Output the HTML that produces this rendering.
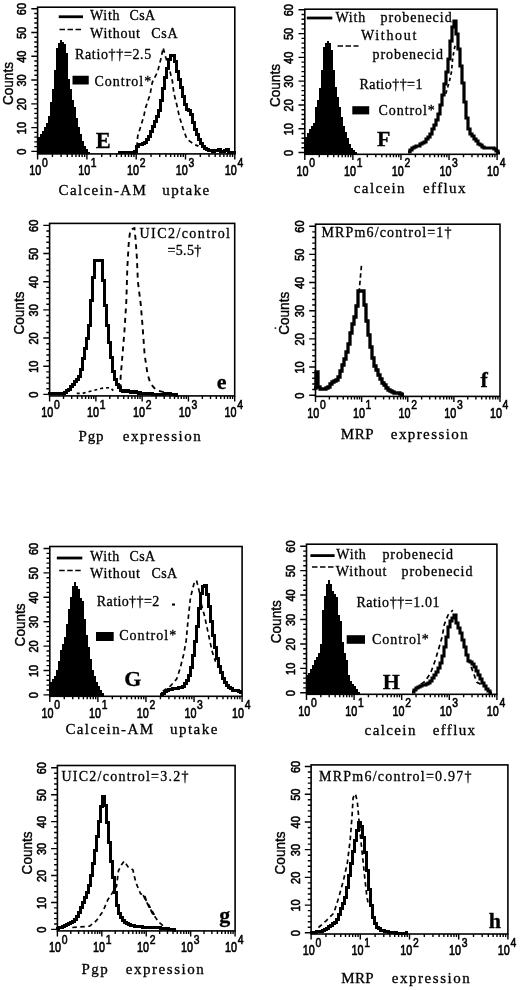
<!DOCTYPE html>
<html><head><meta charset="utf-8"><title>Figure</title>
<style>html,body{margin:0;padding:0;background:#fff}svg{display:block}text{fill:#000}</style>
</head><body>
<svg width="520" height="990" viewBox="0 0 520 990">
<rect width="520" height="990" fill="#fff"/>
<rect x="37.6" y="7.2" width="197.2" height="146.7" fill="none" stroke="#000" stroke-width="1.6"/>
<path d="M37.6 153.9v5.6 M52.44 153.9v3 M61.12 153.9v3 M67.28 153.9v3 M72.06 153.9v3 M75.96 153.9v3 M79.26 153.9v3 M82.12 153.9v3 M84.64 153.9v3 M86.9 153.9v5.6 M101.74 153.9v3 M110.42 153.9v3 M116.58 153.9v3 M121.36 153.9v3 M125.26 153.9v3 M128.56 153.9v3 M131.42 153.9v3 M133.94 153.9v3 M136.2 153.9v5.6 M151.04 153.9v3 M159.72 153.9v3 M165.88 153.9v3 M170.66 153.9v3 M174.56 153.9v3 M177.86 153.9v3 M180.72 153.9v3 M183.24 153.9v3 M185.5 153.9v5.6 M200.34 153.9v3 M209.02 153.9v3 M215.18 153.9v3 M219.96 153.9v3 M223.86 153.9v3 M227.16 153.9v3 M230.02 153.9v3 M232.54 153.9v3 M234.8 153.9v5.6 M37.6 151.4h-6.3 M37.6 146.64h-3.3 M37.6 141.89h-3.3 M37.6 137.13h-3.3 M37.6 132.37h-3.3 M37.6 127.62h-6.3 M37.6 122.86h-3.3 M37.6 118.1h-3.3 M37.6 113.35h-3.3 M37.6 108.59h-3.3 M37.6 103.83h-6.3 M37.6 99.08h-3.3 M37.6 94.32h-3.3 M37.6 89.56h-3.3 M37.6 84.81h-3.3 M37.6 80.05h-6.3 M37.6 75.29h-3.3 M37.6 70.54h-3.3 M37.6 65.78h-3.3 M37.6 61.02h-3.3 M37.6 56.27h-6.3 M37.6 51.51h-3.3 M37.6 46.75h-3.3 M37.6 42h-3.3 M37.6 37.24h-3.3 M37.6 32.48h-6.3 M37.6 27.73h-3.3 M37.6 22.97h-3.3 M37.6 18.21h-3.3 M37.6 13.46h-3.3 M37.6 8.7h-6.3" stroke="#000" stroke-width="1.4" fill="none"/>
<text transform="translate(29.3 175.3) scale(1 1.27)" font-family='"Liberation Sans", sans-serif' font-size="10.8" stroke="#000" stroke-width="0.5">10<tspan dx="0.7" dy="-6.6" font-size="10.4">0</tspan></text>
<text transform="translate(78.15 175.3) scale(1 1.27)" font-family='"Liberation Sans", sans-serif' font-size="10.8" stroke="#000" stroke-width="0.5">10<tspan dx="0.7" dy="-6.6" font-size="10.4">1</tspan></text>
<text transform="translate(127 175.3) scale(1 1.27)" font-family='"Liberation Sans", sans-serif' font-size="10.8" stroke="#000" stroke-width="0.5">10<tspan dx="0.7" dy="-6.6" font-size="10.4">2</tspan></text>
<text transform="translate(175.85 175.3) scale(1 1.27)" font-family='"Liberation Sans", sans-serif' font-size="10.8" stroke="#000" stroke-width="0.5">10<tspan dx="0.7" dy="-6.6" font-size="10.4">3</tspan></text>
<text transform="translate(224.7 175.3) scale(1 1.27)" font-family='"Liberation Sans", sans-serif' font-size="10.8" stroke="#000" stroke-width="0.5">10<tspan dx="0.7" dy="-6.6" font-size="10.4">4</tspan></text>
<text transform="translate(26 151.8) rotate(-90) scale(1 1.15)" text-anchor="middle" font-family='"Liberation Sans", sans-serif' font-size="11" stroke="#000" stroke-width="0.5">0</text>
<text transform="translate(26 128.02) rotate(-90) scale(1 1.15)" text-anchor="middle" font-family='"Liberation Sans", sans-serif' font-size="11" stroke="#000" stroke-width="0.5">10</text>
<text transform="translate(26 104.23) rotate(-90) scale(1 1.15)" text-anchor="middle" font-family='"Liberation Sans", sans-serif' font-size="11" stroke="#000" stroke-width="0.5">20</text>
<text transform="translate(26 80.45) rotate(-90) scale(1 1.15)" text-anchor="middle" font-family='"Liberation Sans", sans-serif' font-size="11" stroke="#000" stroke-width="0.5">30</text>
<text transform="translate(26 56.67) rotate(-90) scale(1 1.15)" text-anchor="middle" font-family='"Liberation Sans", sans-serif' font-size="11" stroke="#000" stroke-width="0.5">40</text>
<text transform="translate(26 32.88) rotate(-90) scale(1 1.15)" text-anchor="middle" font-family='"Liberation Sans", sans-serif' font-size="11" stroke="#000" stroke-width="0.5">50</text>
<text transform="translate(26 9.1) rotate(-90) scale(1 1.15)" text-anchor="middle" font-family='"Liberation Sans", sans-serif' font-size="11" stroke="#000" stroke-width="0.5">60</text>
<text transform="translate(12.5 83.55) rotate(-90) scale(1 1.08)" text-anchor="middle" font-family='"Liberation Sans", sans-serif' font-size="13.6" stroke="#000" stroke-width="0.35">Counts</text>
<rect x="304.8" y="9.2" width="192.3" height="145.1" fill="none" stroke="#000" stroke-width="1.6"/>
<path d="M304.8 154.3v5.6 M319.27 154.3v3 M327.74 154.3v3 M333.74 154.3v3 M338.4 154.3v3 M342.21 154.3v3 M345.43 154.3v3 M348.22 154.3v3 M350.68 154.3v3 M352.88 154.3v5.6 M367.35 154.3v3 M375.81 154.3v3 M381.82 154.3v3 M386.48 154.3v3 M390.28 154.3v3 M393.5 154.3v3 M396.29 154.3v3 M398.75 154.3v3 M400.95 154.3v5.6 M415.42 154.3v3 M423.89 154.3v3 M429.89 154.3v3 M434.55 154.3v3 M438.36 154.3v3 M441.58 154.3v3 M444.37 154.3v3 M446.83 154.3v3 M449.03 154.3v5.6 M463.5 154.3v3 M471.96 154.3v3 M477.97 154.3v3 M482.63 154.3v3 M486.43 154.3v3 M489.65 154.3v3 M492.44 154.3v3 M494.9 154.3v3 M497.1 154.3v5.6 M304.8 152.5h-6.3 M304.8 147.74h-3.3 M304.8 142.99h-3.3 M304.8 138.23h-3.3 M304.8 133.47h-3.3 M304.8 128.72h-6.3 M304.8 123.96h-3.3 M304.8 119.2h-3.3 M304.8 114.45h-3.3 M304.8 109.69h-3.3 M304.8 104.93h-6.3 M304.8 100.18h-3.3 M304.8 95.42h-3.3 M304.8 90.66h-3.3 M304.8 85.91h-3.3 M304.8 81.15h-6.3 M304.8 76.39h-3.3 M304.8 71.64h-3.3 M304.8 66.88h-3.3 M304.8 62.12h-3.3 M304.8 57.37h-6.3 M304.8 52.61h-3.3 M304.8 47.85h-3.3 M304.8 43.1h-3.3 M304.8 38.34h-3.3 M304.8 33.58h-6.3 M304.8 28.83h-3.3 M304.8 24.07h-3.3 M304.8 19.31h-3.3 M304.8 14.56h-3.3 M304.8 9.8h-6.3" stroke="#000" stroke-width="1.4" fill="none"/>
<text transform="translate(296.5 175.7) scale(1 1.27)" font-family='"Liberation Sans", sans-serif' font-size="10.8" stroke="#000" stroke-width="0.5">10<tspan dx="0.7" dy="-6.6" font-size="10.4">0</tspan></text>
<text transform="translate(344.12 175.7) scale(1 1.27)" font-family='"Liberation Sans", sans-serif' font-size="10.8" stroke="#000" stroke-width="0.5">10<tspan dx="0.7" dy="-6.6" font-size="10.4">1</tspan></text>
<text transform="translate(391.75 175.7) scale(1 1.27)" font-family='"Liberation Sans", sans-serif' font-size="10.8" stroke="#000" stroke-width="0.5">10<tspan dx="0.7" dy="-6.6" font-size="10.4">2</tspan></text>
<text transform="translate(439.38 175.7) scale(1 1.27)" font-family='"Liberation Sans", sans-serif' font-size="10.8" stroke="#000" stroke-width="0.5">10<tspan dx="0.7" dy="-6.6" font-size="10.4">3</tspan></text>
<text transform="translate(487 175.7) scale(1 1.27)" font-family='"Liberation Sans", sans-serif' font-size="10.8" stroke="#000" stroke-width="0.5">10<tspan dx="0.7" dy="-6.6" font-size="10.4">4</tspan></text>
<text transform="translate(293.2 152.9) rotate(-90) scale(1 1.15)" text-anchor="middle" font-family='"Liberation Sans", sans-serif' font-size="11" stroke="#000" stroke-width="0.5">0</text>
<text transform="translate(293.2 129.12) rotate(-90) scale(1 1.15)" text-anchor="middle" font-family='"Liberation Sans", sans-serif' font-size="11" stroke="#000" stroke-width="0.5">10</text>
<text transform="translate(293.2 105.33) rotate(-90) scale(1 1.15)" text-anchor="middle" font-family='"Liberation Sans", sans-serif' font-size="11" stroke="#000" stroke-width="0.5">20</text>
<text transform="translate(293.2 81.55) rotate(-90) scale(1 1.15)" text-anchor="middle" font-family='"Liberation Sans", sans-serif' font-size="11" stroke="#000" stroke-width="0.5">30</text>
<text transform="translate(293.2 57.77) rotate(-90) scale(1 1.15)" text-anchor="middle" font-family='"Liberation Sans", sans-serif' font-size="11" stroke="#000" stroke-width="0.5">40</text>
<text transform="translate(293.2 33.98) rotate(-90) scale(1 1.15)" text-anchor="middle" font-family='"Liberation Sans", sans-serif' font-size="11" stroke="#000" stroke-width="0.5">50</text>
<text transform="translate(293.2 10.2) rotate(-90) scale(1 1.15)" text-anchor="middle" font-family='"Liberation Sans", sans-serif' font-size="11" stroke="#000" stroke-width="0.5">60</text>
<text transform="translate(280 85.55) rotate(-90) scale(1 1.08)" text-anchor="middle" font-family='"Liberation Sans", sans-serif' font-size="13.6" stroke="#000" stroke-width="0.35">Counts</text>
<rect x="49.6" y="223.4" width="185.1" height="172.5" fill="none" stroke="#000" stroke-width="1.6"/>
<path d="M49.6 395.9v5.6 M63.53 395.9v3 M71.68 395.9v3 M77.46 395.9v3 M81.94 395.9v3 M85.61 395.9v3 M88.71 395.9v3 M91.39 395.9v3 M93.76 395.9v3 M95.88 395.9v5.6 M109.81 395.9v3 M117.95 395.9v3 M123.74 395.9v3 M128.22 395.9v3 M131.88 395.9v3 M134.98 395.9v3 M137.67 395.9v3 M140.03 395.9v3 M142.15 395.9v5.6 M156.08 395.9v3 M164.23 395.9v3 M170.01 395.9v3 M174.49 395.9v3 M178.16 395.9v3 M181.26 395.9v3 M183.94 395.9v3 M186.31 395.9v3 M188.42 395.9v5.6 M202.36 395.9v3 M210.5 395.9v3 M216.29 395.9v3 M220.77 395.9v3 M224.43 395.9v3 M227.53 395.9v3 M230.22 395.9v3 M232.58 395.9v3 M234.7 395.9v5.6 M49.6 394.4h-6.3 M49.6 388.77h-3.3 M49.6 383.13h-3.3 M49.6 377.5h-3.3 M49.6 371.87h-3.3 M49.6 366.23h-6.3 M49.6 360.6h-3.3 M49.6 354.97h-3.3 M49.6 349.33h-3.3 M49.6 343.7h-3.3 M49.6 338.07h-6.3 M49.6 332.43h-3.3 M49.6 326.8h-3.3 M49.6 321.17h-3.3 M49.6 315.53h-3.3 M49.6 309.9h-6.3 M49.6 304.27h-3.3 M49.6 298.63h-3.3 M49.6 293h-3.3 M49.6 287.37h-3.3 M49.6 281.73h-6.3 M49.6 276.1h-3.3 M49.6 270.47h-3.3 M49.6 264.83h-3.3 M49.6 259.2h-3.3 M49.6 253.57h-6.3 M49.6 247.93h-3.3 M49.6 242.3h-3.3 M49.6 236.67h-3.3 M49.6 231.03h-3.3 M49.6 225.4h-6.3" stroke="#000" stroke-width="1.4" fill="none"/>
<text transform="translate(41.3 417.3) scale(1 1.27)" font-family='"Liberation Sans", sans-serif' font-size="10.8" stroke="#000" stroke-width="0.5">10<tspan dx="0.7" dy="-6.6" font-size="10.4">0</tspan></text>
<text transform="translate(87.12 417.3) scale(1 1.27)" font-family='"Liberation Sans", sans-serif' font-size="10.8" stroke="#000" stroke-width="0.5">10<tspan dx="0.7" dy="-6.6" font-size="10.4">1</tspan></text>
<text transform="translate(132.95 417.3) scale(1 1.27)" font-family='"Liberation Sans", sans-serif' font-size="10.8" stroke="#000" stroke-width="0.5">10<tspan dx="0.7" dy="-6.6" font-size="10.4">2</tspan></text>
<text transform="translate(178.77 417.3) scale(1 1.27)" font-family='"Liberation Sans", sans-serif' font-size="10.8" stroke="#000" stroke-width="0.5">10<tspan dx="0.7" dy="-6.6" font-size="10.4">3</tspan></text>
<text transform="translate(224.6 417.3) scale(1 1.27)" font-family='"Liberation Sans", sans-serif' font-size="10.8" stroke="#000" stroke-width="0.5">10<tspan dx="0.7" dy="-6.6" font-size="10.4">4</tspan></text>
<text transform="translate(38 394.8) rotate(-90) scale(1 1.2)" text-anchor="middle" font-family='"Liberation Sans", sans-serif' font-size="11" stroke="#000" stroke-width="0.5">0</text>
<text transform="translate(38 366.63) rotate(-90) scale(1 1.2)" text-anchor="middle" font-family='"Liberation Sans", sans-serif' font-size="11" stroke="#000" stroke-width="0.5">10</text>
<text transform="translate(38 338.47) rotate(-90) scale(1 1.2)" text-anchor="middle" font-family='"Liberation Sans", sans-serif' font-size="11" stroke="#000" stroke-width="0.5">20</text>
<text transform="translate(38 310.3) rotate(-90) scale(1 1.2)" text-anchor="middle" font-family='"Liberation Sans", sans-serif' font-size="11" stroke="#000" stroke-width="0.5">30</text>
<text transform="translate(38 282.13) rotate(-90) scale(1 1.2)" text-anchor="middle" font-family='"Liberation Sans", sans-serif' font-size="11" stroke="#000" stroke-width="0.5">40</text>
<text transform="translate(38 253.97) rotate(-90) scale(1 1.2)" text-anchor="middle" font-family='"Liberation Sans", sans-serif' font-size="11" stroke="#000" stroke-width="0.5">50</text>
<text transform="translate(38 225.8) rotate(-90) scale(1 1.2)" text-anchor="middle" font-family='"Liberation Sans", sans-serif' font-size="11" stroke="#000" stroke-width="0.5">60</text>
<text transform="translate(23.7 313.05) rotate(-90) scale(1 1.08)" text-anchor="middle" font-family='"Liberation Sans", sans-serif' font-size="13.6" stroke="#000" stroke-width="0.35">Counts</text>
<rect x="315.5" y="224.2" width="184.5" height="172.2" fill="none" stroke="#000" stroke-width="1.6"/>
<path d="M315.5 396.4v5.6 M329.39 396.4v3 M337.51 396.4v3 M343.27 396.4v3 M347.74 396.4v3 M351.39 396.4v3 M354.48 396.4v3 M357.16 396.4v3 M359.51 396.4v3 M361.62 396.4v5.6 M375.51 396.4v3 M383.63 396.4v3 M389.4 396.4v3 M393.86 396.4v3 M397.52 396.4v3 M400.61 396.4v3 M403.28 396.4v3 M405.64 396.4v3 M407.75 396.4v5.6 M421.64 396.4v3 M429.76 396.4v3 M435.52 396.4v3 M439.99 396.4v3 M443.64 396.4v3 M446.73 396.4v3 M449.41 396.4v3 M451.76 396.4v3 M453.88 396.4v5.6 M467.76 396.4v3 M475.88 396.4v3 M481.65 396.4v3 M486.11 396.4v3 M489.77 396.4v3 M492.86 396.4v3 M495.53 396.4v3 M497.89 396.4v3 M500 396.4v5.6 M315.5 395.2h-6.3 M315.5 389.57h-3.3 M315.5 383.93h-3.3 M315.5 378.3h-3.3 M315.5 372.67h-3.3 M315.5 367.03h-6.3 M315.5 361.4h-3.3 M315.5 355.77h-3.3 M315.5 350.13h-3.3 M315.5 344.5h-3.3 M315.5 338.87h-6.3 M315.5 333.23h-3.3 M315.5 327.6h-3.3 M315.5 321.97h-3.3 M315.5 316.33h-3.3 M315.5 310.7h-6.3 M315.5 305.07h-3.3 M315.5 299.43h-3.3 M315.5 293.8h-3.3 M315.5 288.17h-3.3 M315.5 282.53h-6.3 M315.5 276.9h-3.3 M315.5 271.27h-3.3 M315.5 265.63h-3.3 M315.5 260h-3.3 M315.5 254.37h-6.3 M315.5 248.73h-3.3 M315.5 243.1h-3.3 M315.5 237.47h-3.3 M315.5 231.83h-3.3 M315.5 226.2h-6.3" stroke="#000" stroke-width="1.4" fill="none"/>
<text transform="translate(307.2 417.8) scale(1 1.27)" font-family='"Liberation Sans", sans-serif' font-size="10.8" stroke="#000" stroke-width="0.5">10<tspan dx="0.7" dy="-6.6" font-size="10.4">0</tspan></text>
<text transform="translate(352.88 417.8) scale(1 1.27)" font-family='"Liberation Sans", sans-serif' font-size="10.8" stroke="#000" stroke-width="0.5">10<tspan dx="0.7" dy="-6.6" font-size="10.4">1</tspan></text>
<text transform="translate(398.55 417.8) scale(1 1.27)" font-family='"Liberation Sans", sans-serif' font-size="10.8" stroke="#000" stroke-width="0.5">10<tspan dx="0.7" dy="-6.6" font-size="10.4">2</tspan></text>
<text transform="translate(444.22 417.8) scale(1 1.27)" font-family='"Liberation Sans", sans-serif' font-size="10.8" stroke="#000" stroke-width="0.5">10<tspan dx="0.7" dy="-6.6" font-size="10.4">3</tspan></text>
<text transform="translate(489.9 417.8) scale(1 1.27)" font-family='"Liberation Sans", sans-serif' font-size="10.8" stroke="#000" stroke-width="0.5">10<tspan dx="0.7" dy="-6.6" font-size="10.4">4</tspan></text>
<text transform="translate(303.9 395.6) rotate(-90) scale(1 1.2)" text-anchor="middle" font-family='"Liberation Sans", sans-serif' font-size="11" stroke="#000" stroke-width="0.5">0</text>
<text transform="translate(303.9 367.43) rotate(-90) scale(1 1.2)" text-anchor="middle" font-family='"Liberation Sans", sans-serif' font-size="11" stroke="#000" stroke-width="0.5">10</text>
<text transform="translate(303.9 339.27) rotate(-90) scale(1 1.2)" text-anchor="middle" font-family='"Liberation Sans", sans-serif' font-size="11" stroke="#000" stroke-width="0.5">20</text>
<text transform="translate(303.9 311.1) rotate(-90) scale(1 1.2)" text-anchor="middle" font-family='"Liberation Sans", sans-serif' font-size="11" stroke="#000" stroke-width="0.5">30</text>
<text transform="translate(303.9 282.93) rotate(-90) scale(1 1.2)" text-anchor="middle" font-family='"Liberation Sans", sans-serif' font-size="11" stroke="#000" stroke-width="0.5">40</text>
<text transform="translate(303.9 254.77) rotate(-90) scale(1 1.2)" text-anchor="middle" font-family='"Liberation Sans", sans-serif' font-size="11" stroke="#000" stroke-width="0.5">50</text>
<text transform="translate(303.9 226.6) rotate(-90) scale(1 1.2)" text-anchor="middle" font-family='"Liberation Sans", sans-serif' font-size="11" stroke="#000" stroke-width="0.5">60</text>
<text transform="translate(288.9 313.3) rotate(-90) scale(1 1.08)" text-anchor="middle" font-family='"Liberation Sans", sans-serif' font-size="13.6" stroke="#000" stroke-width="0.35">Counts</text>
<rect x="49.8" y="546.5" width="192.3" height="149.8" fill="none" stroke="#000" stroke-width="1.6"/>
<path d="M49.8 696.3v5.6 M64.27 696.3v3 M72.74 696.3v3 M78.74 696.3v3 M83.4 696.3v3 M87.21 696.3v3 M90.43 696.3v3 M93.22 696.3v3 M95.68 696.3v3 M97.88 696.3v5.6 M112.35 696.3v3 M120.81 696.3v3 M126.82 696.3v3 M131.48 696.3v3 M135.28 696.3v3 M138.5 696.3v3 M141.29 696.3v3 M143.75 696.3v3 M145.95 696.3v5.6 M160.42 696.3v3 M168.89 696.3v3 M174.89 696.3v3 M179.55 696.3v3 M183.36 696.3v3 M186.58 696.3v3 M189.37 696.3v3 M191.83 696.3v3 M194.03 696.3v5.6 M208.5 696.3v3 M216.96 696.3v3 M222.97 696.3v3 M227.63 696.3v3 M231.43 696.3v3 M234.65 696.3v3 M237.44 696.3v3 M239.9 696.3v3 M242.1 696.3v5.6 M49.8 694.9h-6.3 M49.8 690.02h-3.3 M49.8 685.14h-3.3 M49.8 680.26h-3.3 M49.8 675.38h-3.3 M49.8 670.5h-6.3 M49.8 665.62h-3.3 M49.8 660.74h-3.3 M49.8 655.86h-3.3 M49.8 650.98h-3.3 M49.8 646.1h-6.3 M49.8 641.22h-3.3 M49.8 636.34h-3.3 M49.8 631.46h-3.3 M49.8 626.58h-3.3 M49.8 621.7h-6.3 M49.8 616.82h-3.3 M49.8 611.94h-3.3 M49.8 607.06h-3.3 M49.8 602.18h-3.3 M49.8 597.3h-6.3 M49.8 592.42h-3.3 M49.8 587.54h-3.3 M49.8 582.66h-3.3 M49.8 577.78h-3.3 M49.8 572.9h-6.3 M49.8 568.02h-3.3 M49.8 563.14h-3.3 M49.8 558.26h-3.3 M49.8 553.38h-3.3 M49.8 548.5h-6.3" stroke="#000" stroke-width="1.4" fill="none"/>
<text transform="translate(41.5 717.7) scale(1 1.27)" font-family='"Liberation Sans", sans-serif' font-size="10.8" stroke="#000" stroke-width="0.5">10<tspan dx="0.7" dy="-6.6" font-size="10.4">0</tspan></text>
<text transform="translate(89.12 717.7) scale(1 1.27)" font-family='"Liberation Sans", sans-serif' font-size="10.8" stroke="#000" stroke-width="0.5">10<tspan dx="0.7" dy="-6.6" font-size="10.4">1</tspan></text>
<text transform="translate(136.75 717.7) scale(1 1.27)" font-family='"Liberation Sans", sans-serif' font-size="10.8" stroke="#000" stroke-width="0.5">10<tspan dx="0.7" dy="-6.6" font-size="10.4">2</tspan></text>
<text transform="translate(184.38 717.7) scale(1 1.27)" font-family='"Liberation Sans", sans-serif' font-size="10.8" stroke="#000" stroke-width="0.5">10<tspan dx="0.7" dy="-6.6" font-size="10.4">3</tspan></text>
<text transform="translate(232 717.7) scale(1 1.27)" font-family='"Liberation Sans", sans-serif' font-size="10.8" stroke="#000" stroke-width="0.5">10<tspan dx="0.7" dy="-6.6" font-size="10.4">4</tspan></text>
<text transform="translate(38.2 695.3) rotate(-90) scale(1 1.15)" text-anchor="middle" font-family='"Liberation Sans", sans-serif' font-size="11" stroke="#000" stroke-width="0.5">0</text>
<text transform="translate(38.2 670.9) rotate(-90) scale(1 1.15)" text-anchor="middle" font-family='"Liberation Sans", sans-serif' font-size="11" stroke="#000" stroke-width="0.5">10</text>
<text transform="translate(38.2 646.5) rotate(-90) scale(1 1.15)" text-anchor="middle" font-family='"Liberation Sans", sans-serif' font-size="11" stroke="#000" stroke-width="0.5">20</text>
<text transform="translate(38.2 622.1) rotate(-90) scale(1 1.15)" text-anchor="middle" font-family='"Liberation Sans", sans-serif' font-size="11" stroke="#000" stroke-width="0.5">30</text>
<text transform="translate(38.2 597.7) rotate(-90) scale(1 1.15)" text-anchor="middle" font-family='"Liberation Sans", sans-serif' font-size="11" stroke="#000" stroke-width="0.5">40</text>
<text transform="translate(38.2 573.3) rotate(-90) scale(1 1.15)" text-anchor="middle" font-family='"Liberation Sans", sans-serif' font-size="11" stroke="#000" stroke-width="0.5">50</text>
<text transform="translate(38.2 548.9) rotate(-90) scale(1 1.15)" text-anchor="middle" font-family='"Liberation Sans", sans-serif' font-size="11" stroke="#000" stroke-width="0.5">60</text>
<text transform="translate(25 624.9) rotate(-90) scale(1 1.08)" text-anchor="middle" font-family='"Liberation Sans", sans-serif' font-size="13.6" stroke="#000" stroke-width="0.35">Counts</text>
<rect x="306.5" y="544.2" width="190.4" height="150.1" fill="none" stroke="#000" stroke-width="1.6"/>
<path d="M306.5 694.3v5.6 M320.83 694.3v3 M329.21 694.3v3 M335.16 694.3v3 M339.77 694.3v3 M343.54 694.3v3 M346.73 694.3v3 M349.49 694.3v3 M351.92 694.3v3 M354.1 694.3v5.6 M368.43 694.3v3 M376.81 694.3v3 M382.76 694.3v3 M387.37 694.3v3 M391.14 694.3v3 M394.33 694.3v3 M397.09 694.3v3 M399.52 694.3v3 M401.7 694.3v5.6 M416.03 694.3v3 M424.41 694.3v3 M430.36 694.3v3 M434.97 694.3v3 M438.74 694.3v3 M441.93 694.3v3 M444.69 694.3v3 M447.12 694.3v3 M449.3 694.3v5.6 M463.63 694.3v3 M472.01 694.3v3 M477.96 694.3v3 M482.57 694.3v3 M486.34 694.3v3 M489.53 694.3v3 M492.29 694.3v3 M494.72 694.3v3 M496.9 694.3v5.6 M306.5 692.8h-6.3 M306.5 687.91h-3.3 M306.5 683.03h-3.3 M306.5 678.14h-3.3 M306.5 673.25h-3.3 M306.5 668.37h-6.3 M306.5 663.48h-3.3 M306.5 658.59h-3.3 M306.5 653.71h-3.3 M306.5 648.82h-3.3 M306.5 643.93h-6.3 M306.5 639.05h-3.3 M306.5 634.16h-3.3 M306.5 629.27h-3.3 M306.5 624.39h-3.3 M306.5 619.5h-6.3 M306.5 614.61h-3.3 M306.5 609.73h-3.3 M306.5 604.84h-3.3 M306.5 599.95h-3.3 M306.5 595.07h-6.3 M306.5 590.18h-3.3 M306.5 585.29h-3.3 M306.5 580.41h-3.3 M306.5 575.52h-3.3 M306.5 570.63h-6.3 M306.5 565.75h-3.3 M306.5 560.86h-3.3 M306.5 555.97h-3.3 M306.5 551.09h-3.3 M306.5 546.2h-6.3" stroke="#000" stroke-width="1.4" fill="none"/>
<text transform="translate(298.2 715.7) scale(1 1.27)" font-family='"Liberation Sans", sans-serif' font-size="10.8" stroke="#000" stroke-width="0.5">10<tspan dx="0.7" dy="-6.6" font-size="10.4">0</tspan></text>
<text transform="translate(345.35 715.7) scale(1 1.27)" font-family='"Liberation Sans", sans-serif' font-size="10.8" stroke="#000" stroke-width="0.5">10<tspan dx="0.7" dy="-6.6" font-size="10.4">1</tspan></text>
<text transform="translate(392.5 715.7) scale(1 1.27)" font-family='"Liberation Sans", sans-serif' font-size="10.8" stroke="#000" stroke-width="0.5">10<tspan dx="0.7" dy="-6.6" font-size="10.4">2</tspan></text>
<text transform="translate(439.65 715.7) scale(1 1.27)" font-family='"Liberation Sans", sans-serif' font-size="10.8" stroke="#000" stroke-width="0.5">10<tspan dx="0.7" dy="-6.6" font-size="10.4">3</tspan></text>
<text transform="translate(486.8 715.7) scale(1 1.27)" font-family='"Liberation Sans", sans-serif' font-size="10.8" stroke="#000" stroke-width="0.5">10<tspan dx="0.7" dy="-6.6" font-size="10.4">4</tspan></text>
<text transform="translate(294.9 693.2) rotate(-90) scale(1 1.15)" text-anchor="middle" font-family='"Liberation Sans", sans-serif' font-size="11" stroke="#000" stroke-width="0.5">0</text>
<text transform="translate(294.9 668.77) rotate(-90) scale(1 1.15)" text-anchor="middle" font-family='"Liberation Sans", sans-serif' font-size="11" stroke="#000" stroke-width="0.5">10</text>
<text transform="translate(294.9 644.33) rotate(-90) scale(1 1.15)" text-anchor="middle" font-family='"Liberation Sans", sans-serif' font-size="11" stroke="#000" stroke-width="0.5">20</text>
<text transform="translate(294.9 619.9) rotate(-90) scale(1 1.15)" text-anchor="middle" font-family='"Liberation Sans", sans-serif' font-size="11" stroke="#000" stroke-width="0.5">30</text>
<text transform="translate(294.9 595.47) rotate(-90) scale(1 1.15)" text-anchor="middle" font-family='"Liberation Sans", sans-serif' font-size="11" stroke="#000" stroke-width="0.5">40</text>
<text transform="translate(294.9 571.03) rotate(-90) scale(1 1.15)" text-anchor="middle" font-family='"Liberation Sans", sans-serif' font-size="11" stroke="#000" stroke-width="0.5">50</text>
<text transform="translate(294.9 546.6) rotate(-90) scale(1 1.15)" text-anchor="middle" font-family='"Liberation Sans", sans-serif' font-size="11" stroke="#000" stroke-width="0.5">60</text>
<text transform="translate(280.9 621.75) rotate(-90) scale(1 1.08)" text-anchor="middle" font-family='"Liberation Sans", sans-serif' font-size="13.6" stroke="#000" stroke-width="0.35">Counts</text>
<rect x="57.4" y="765.5" width="177.7" height="165.4" fill="none" stroke="#000" stroke-width="1.6"/>
<path d="M57.4 930.9v5.6 M70.77 930.9v3 M78.6 930.9v3 M84.15 930.9v3 M88.45 930.9v3 M91.97 930.9v3 M94.94 930.9v3 M97.52 930.9v3 M99.79 930.9v3 M101.82 930.9v5.6 M115.2 930.9v3 M123.02 930.9v3 M128.57 930.9v3 M132.88 930.9v3 M136.39 930.9v3 M139.37 930.9v3 M141.94 930.9v3 M144.22 930.9v3 M146.25 930.9v5.6 M159.62 930.9v3 M167.45 930.9v3 M173 930.9v3 M177.3 930.9v3 M180.82 930.9v3 M183.79 930.9v3 M186.37 930.9v3 M188.64 930.9v3 M190.67 930.9v5.6 M204.05 930.9v3 M211.87 930.9v3 M217.42 930.9v3 M221.73 930.9v3 M225.24 930.9v3 M228.22 930.9v3 M230.79 930.9v3 M233.07 930.9v3 M235.1 930.9v5.6 M57.4 929.4h-6.3 M57.4 924.01h-3.3 M57.4 918.63h-3.3 M57.4 913.24h-3.3 M57.4 907.85h-3.3 M57.4 902.47h-6.3 M57.4 897.08h-3.3 M57.4 891.69h-3.3 M57.4 886.31h-3.3 M57.4 880.92h-3.3 M57.4 875.53h-6.3 M57.4 870.15h-3.3 M57.4 864.76h-3.3 M57.4 859.37h-3.3 M57.4 853.99h-3.3 M57.4 848.6h-6.3 M57.4 843.21h-3.3 M57.4 837.83h-3.3 M57.4 832.44h-3.3 M57.4 827.05h-3.3 M57.4 821.67h-6.3 M57.4 816.28h-3.3 M57.4 810.89h-3.3 M57.4 805.51h-3.3 M57.4 800.12h-3.3 M57.4 794.73h-6.3 M57.4 789.35h-3.3 M57.4 783.96h-3.3 M57.4 778.57h-3.3 M57.4 773.19h-3.3 M57.4 767.8h-6.3" stroke="#000" stroke-width="1.4" fill="none"/>
<text transform="translate(49.1 952.3) scale(1 1.27)" font-family='"Liberation Sans", sans-serif' font-size="10.8" stroke="#000" stroke-width="0.5">10<tspan dx="0.7" dy="-6.6" font-size="10.4">0</tspan></text>
<text transform="translate(93.07 952.3) scale(1 1.27)" font-family='"Liberation Sans", sans-serif' font-size="10.8" stroke="#000" stroke-width="0.5">10<tspan dx="0.7" dy="-6.6" font-size="10.4">1</tspan></text>
<text transform="translate(137.05 952.3) scale(1 1.27)" font-family='"Liberation Sans", sans-serif' font-size="10.8" stroke="#000" stroke-width="0.5">10<tspan dx="0.7" dy="-6.6" font-size="10.4">2</tspan></text>
<text transform="translate(181.02 952.3) scale(1 1.27)" font-family='"Liberation Sans", sans-serif' font-size="10.8" stroke="#000" stroke-width="0.5">10<tspan dx="0.7" dy="-6.6" font-size="10.4">3</tspan></text>
<text transform="translate(225 952.3) scale(1 1.27)" font-family='"Liberation Sans", sans-serif' font-size="10.8" stroke="#000" stroke-width="0.5">10<tspan dx="0.7" dy="-6.6" font-size="10.4">4</tspan></text>
<text transform="translate(45.8 929.8) rotate(-90) scale(1 1.2)" text-anchor="middle" font-family='"Liberation Sans", sans-serif' font-size="11" stroke="#000" stroke-width="0.5">0</text>
<text transform="translate(45.8 902.87) rotate(-90) scale(1 1.2)" text-anchor="middle" font-family='"Liberation Sans", sans-serif' font-size="11" stroke="#000" stroke-width="0.5">10</text>
<text transform="translate(45.8 875.93) rotate(-90) scale(1 1.2)" text-anchor="middle" font-family='"Liberation Sans", sans-serif' font-size="11" stroke="#000" stroke-width="0.5">20</text>
<text transform="translate(45.8 849) rotate(-90) scale(1 1.2)" text-anchor="middle" font-family='"Liberation Sans", sans-serif' font-size="11" stroke="#000" stroke-width="0.5">30</text>
<text transform="translate(45.8 822.07) rotate(-90) scale(1 1.2)" text-anchor="middle" font-family='"Liberation Sans", sans-serif' font-size="11" stroke="#000" stroke-width="0.5">40</text>
<text transform="translate(45.8 795.13) rotate(-90) scale(1 1.2)" text-anchor="middle" font-family='"Liberation Sans", sans-serif' font-size="11" stroke="#000" stroke-width="0.5">50</text>
<text transform="translate(45.8 768.2) rotate(-90) scale(1 1.2)" text-anchor="middle" font-family='"Liberation Sans", sans-serif' font-size="11" stroke="#000" stroke-width="0.5">60</text>
<text transform="translate(32.4 852.9) rotate(-90) scale(1 1.08)" text-anchor="middle" font-family='"Liberation Sans", sans-serif' font-size="13.6" stroke="#000" stroke-width="0.35">Counts</text>
<rect x="311.1" y="764.9" width="196.8" height="169.1" fill="none" stroke="#000" stroke-width="1.6"/>
<path d="M311.1 934v5.6 M325.91 934v3 M334.57 934v3 M340.72 934v3 M345.49 934v3 M349.39 934v3 M352.68 934v3 M355.53 934v3 M358.05 934v3 M360.3 934v5.6 M375.11 934v3 M383.77 934v3 M389.92 934v3 M394.69 934v3 M398.59 934v3 M401.88 934v3 M404.73 934v3 M407.25 934v3 M409.5 934v5.6 M424.31 934v3 M432.97 934v3 M439.12 934v3 M443.89 934v3 M447.79 934v3 M451.08 934v3 M453.93 934v3 M456.45 934v3 M458.7 934v5.6 M473.51 934v3 M482.17 934v3 M488.32 934v3 M493.09 934v3 M496.99 934v3 M500.28 934v3 M503.13 934v3 M505.65 934v3 M507.9 934v5.6 M311.1 932.8h-6.3 M311.1 927.26h-3.3 M311.1 921.71h-3.3 M311.1 916.17h-3.3 M311.1 910.63h-3.3 M311.1 905.08h-6.3 M311.1 899.54h-3.3 M311.1 894h-3.3 M311.1 888.45h-3.3 M311.1 882.91h-3.3 M311.1 877.37h-6.3 M311.1 871.82h-3.3 M311.1 866.28h-3.3 M311.1 860.74h-3.3 M311.1 855.19h-3.3 M311.1 849.65h-6.3 M311.1 844.11h-3.3 M311.1 838.56h-3.3 M311.1 833.02h-3.3 M311.1 827.48h-3.3 M311.1 821.93h-6.3 M311.1 816.39h-3.3 M311.1 810.85h-3.3 M311.1 805.3h-3.3 M311.1 799.76h-3.3 M311.1 794.22h-6.3 M311.1 788.67h-3.3 M311.1 783.13h-3.3 M311.1 777.59h-3.3 M311.1 772.04h-3.3 M311.1 766.5h-6.3" stroke="#000" stroke-width="1.4" fill="none"/>
<text transform="translate(302.8 955.4) scale(1 1.27)" font-family='"Liberation Sans", sans-serif' font-size="10.8" stroke="#000" stroke-width="0.5">10<tspan dx="0.7" dy="-6.6" font-size="10.4">0</tspan></text>
<text transform="translate(351.55 955.4) scale(1 1.27)" font-family='"Liberation Sans", sans-serif' font-size="10.8" stroke="#000" stroke-width="0.5">10<tspan dx="0.7" dy="-6.6" font-size="10.4">1</tspan></text>
<text transform="translate(400.3 955.4) scale(1 1.27)" font-family='"Liberation Sans", sans-serif' font-size="10.8" stroke="#000" stroke-width="0.5">10<tspan dx="0.7" dy="-6.6" font-size="10.4">2</tspan></text>
<text transform="translate(449.05 955.4) scale(1 1.27)" font-family='"Liberation Sans", sans-serif' font-size="10.8" stroke="#000" stroke-width="0.5">10<tspan dx="0.7" dy="-6.6" font-size="10.4">3</tspan></text>
<text transform="translate(497.8 955.4) scale(1 1.27)" font-family='"Liberation Sans", sans-serif' font-size="10.8" stroke="#000" stroke-width="0.5">10<tspan dx="0.7" dy="-6.6" font-size="10.4">4</tspan></text>
<text transform="translate(299.5 933.2) rotate(-90) scale(1 1.2)" text-anchor="middle" font-family='"Liberation Sans", sans-serif' font-size="11" stroke="#000" stroke-width="0.5">0</text>
<text transform="translate(299.5 905.48) rotate(-90) scale(1 1.2)" text-anchor="middle" font-family='"Liberation Sans", sans-serif' font-size="11" stroke="#000" stroke-width="0.5">10</text>
<text transform="translate(299.5 877.77) rotate(-90) scale(1 1.2)" text-anchor="middle" font-family='"Liberation Sans", sans-serif' font-size="11" stroke="#000" stroke-width="0.5">20</text>
<text transform="translate(299.5 850.05) rotate(-90) scale(1 1.2)" text-anchor="middle" font-family='"Liberation Sans", sans-serif' font-size="11" stroke="#000" stroke-width="0.5">30</text>
<text transform="translate(299.5 822.33) rotate(-90) scale(1 1.2)" text-anchor="middle" font-family='"Liberation Sans", sans-serif' font-size="11" stroke="#000" stroke-width="0.5">40</text>
<text transform="translate(299.5 794.62) rotate(-90) scale(1 1.2)" text-anchor="middle" font-family='"Liberation Sans", sans-serif' font-size="11" stroke="#000" stroke-width="0.5">50</text>
<text transform="translate(299.5 766.9) rotate(-90) scale(1 1.2)" text-anchor="middle" font-family='"Liberation Sans", sans-serif' font-size="11" stroke="#000" stroke-width="0.5">60</text>
<text transform="translate(285.3 852.95) rotate(-90) scale(1 1.08)" text-anchor="middle" font-family='"Liberation Sans", sans-serif' font-size="13.6" stroke="#000" stroke-width="0.35">Counts</text>
<path d="M38 154 L38 137 L40 137 L40 134 L42 134 L42 131 L44 131 L44 127 L46 127 L46 123 L48 123 L48 116 L50 116 L50 102 L52 102 L52 89 L54 89 L54 70 L56 70 L56 48 L58 48 L58 43 L60 43 L60 40 L62 40 L62 42 L64 42 L64 44 L66 44 L66 53 L68 53 L68 79 L70 79 L70 89 L72 89 L72 100 L74 100 L74 107 L76 107 L76 118 L78 118 L78 127 L80 127 L80 134 L82 134 L82 141 L84 141 L84 146 L86 146 L86 149 L88 149 L88 152 L90 152 L90 154 L92 154 L92 154 Z" fill="#000" stroke="none" shape-rendering="crispEdges"/>
<rect x="72.5" y="75.75" width="16.25" height="8.75" fill="#000"/>
<path d="M58.75 16.75 L83 16.75" fill="none" stroke="#000" stroke-width="2.8" stroke-linejoin="miter" stroke-linecap="butt"/>
<path d="M59.5 29.5 L81 29.5" fill="none" stroke="#000" stroke-width="1.5" stroke-linejoin="miter" stroke-linecap="butt" stroke-dasharray="5.5 2.5"/>
<path d="M118 152 L120 152 L120 152 L122 152 L122 152 L124 152 L124 152 L126 152 L126 152 L128 152 L128 152 L130 152 L130 152 L132 152 L132 152 L134 152 L134 151 L136 151 L136 146 L138 146 L138 144 L140 144 L140 144 L142 144 L142 143 L144 143 L144 142 L146 142 L146 139 L148 139 L148 136 L150 136 L150 131 L152 131 L152 126 L154 126 L154 121 L156 121 L156 116 L158 116 L158 110 L160 110 L160 100 L162 100 L162 88 L164 88 L164 77 L166 77 L166 68 L168 68 L168 59 L170 59 L170 55 L172 55 L172 55 L174 55 L174 61 L176 61 L176 71 L178 71 L178 79 L180 79 L180 87 L182 87 L182 96 L184 96 L184 104 L186 104 L186 109 L188 109 L188 110 L190 110 L190 114 L192 114 L192 122 L194 122 L194 129 L196 129 L196 134 L198 134 L198 139 L200 139 L200 143 L202 143 L202 146 L204 146 L204 148 L206 148 L206 149 L208 149 L208 150 L210 150 L210 150 L212 150 L212 151 L214 151 L214 150 L216 150 L216 150 L218 150 L218 149 L220 149 L220 151 L222 151 L222 151 L224 151 L224 150 L226 150 L226 149 L228 149 L228 152 L230 152 L230 152 L232 152 L232 152 L234 152 L234 152 L236 152" fill="none" stroke="#000" stroke-width="3" stroke-linejoin="miter" shape-rendering="crispEdges"/>
<path d="M136.92 146.92 L137.69 136.15 L143.85 116.15 L145.38 108.46 L150 94.62 L152.31 82.31 L157.69 71.54 L160.77 59.23 L163.08 48.46 L163.08 47.69 L165.38 56.15 L169.23 68.46 L172.31 80.77 L173.85 93.08 L176.92 105.38 L179.23 116.15 L183.08 128.46 L186.92 139.23 L194.62 144.62 L198.46 146.15" fill="none" stroke="#000" stroke-width="1.7" stroke-linejoin="miter" stroke-linecap="butt" stroke-dasharray="4.5 3.5"/>
<path d="M305 154.5 L305 137 L307 137 L307 133 L309 133 L309 129 L311 129 L311 126 L313 126 L313 123 L315 123 L315 107 L317 107 L317 100 L319 100 L319 88 L321 88 L321 70 L323 70 L323 47 L325 47 L325 43 L327 43 L327 41 L329 41 L329 43 L331 43 L331 50 L333 50 L333 70 L335 70 L335 87 L337 87 L337 97 L339 97 L339 107 L341 107 L341 117 L343 117 L343 126 L345 126 L345 132 L347 132 L347 138 L349 138 L349 144 L351 144 L351 148 L353 148 L353 150 L355 150 L355 152 L357 152 L357 154 L359 154 L359 154.5 Z" fill="#000" stroke="none" shape-rendering="crispEdges"/>
<rect x="352.3" y="106.2" width="16.9" height="8.2" fill="#000"/>
<path d="M306.8 18 L332.3 18" fill="none" stroke="#000" stroke-width="2.8" stroke-linejoin="miter" stroke-linecap="butt"/>
<path d="M337.5 46 L358.5 46" fill="none" stroke="#000" stroke-width="1.5" stroke-linejoin="miter" stroke-linecap="butt" stroke-dasharray="5.5 2.5"/>
<path d="M408 152 L410 152 L410 150 L412 150 L412 148 L414 148 L414 147 L416 147 L416 146 L418 146 L418 146 L420 146 L420 144 L422 144 L422 143 L424 143 L424 142 L426 142 L426 139 L428 139 L428 137 L430 137 L430 134 L432 134 L432 129 L434 129 L434 125 L436 125 L436 120 L438 120 L438 114 L440 114 L440 105 L442 105 L442 95 L444 95 L444 84 L446 84 L446 72 L448 72 L448 59 L450 59 L450 41 L452 41 L452 27 L454 27 L454 21 L456 21 L456 34 L458 34 L458 49 L460 49 L460 66 L462 66 L462 83 L464 83 L464 102 L466 102 L466 118 L468 118 L468 129 L470 129 L470 134 L472 134 L472 136 L474 136 L474 139 L476 139 L476 141 L478 141 L478 144 L480 144 L480 145 L482 145 L482 147 L484 147 L484 148 L486 148 L486 148 L488 148 L488 148 L490 148 L490 148 L492 148 L492 148 L494 148 L494 149 L496 149 L496 151 L498 151 L498 153 L500 153" fill="none" stroke="#000" stroke-width="3.2" stroke-linejoin="miter"/>
<path d="M445.77 93.65 L449.23 82.12 L451.54 71.54 L452.69 58.08 L454.62 47.5 L456.15 42.69" fill="none" stroke="#000" stroke-width="1.7" stroke-linejoin="miter" stroke-linecap="butt" stroke-dasharray="3.5 3"/>
<path d="M48 393 L50 393 L50 393 L52 393 L52 393 L54 393 L54 393 L56 393 L56 393 L58 393 L58 393 L60 393 L60 393 L62 393 L62 393 L64 393 L64 392 L66 392 L66 390 L68 390 L68 389 L70 389 L70 386 L72 386 L72 384 L74 384 L74 381 L76 381 L76 379 L78 379 L78 376 L80 376 L80 369 L82 369 L82 358 L84 358 L84 348 L86 348 L86 338 L88 338 L88 325 L90 325 L90 300 L92 300 L92 277 L94 277 L94 260 L96 260 L96 260 L98 260 L98 260 L100 260 L100 260 L102 260 L102 280 L104 280 L104 305 L106 305 L106 325 L108 325 L108 342 L110 342 L110 357 L112 357 L112 371 L114 371 L114 379 L116 379 L116 384 L118 384 L118 387 L120 387 L120 390 L122 390 L122 391 L124 391 L124 391 L126 391 L126 391 L128 391 L128 391 L130 391 L130 391 L132 391 L132 391 L134 391 L134 392 L136 392 L136 392 L138 392 L138 392 L140 392 L140 393 L142 393 L142 393 L144 393 L144 393 L146 393 L144 393 L142 393 L142 393 L140 393 L140 393 L138 393 L138 392 L136 392 L136 392 L134 392 L134 392 L132 392 L132 392 L130 392 L130 391 L128 391 L128 391 L126 391 L126 391 L124 391 L124 390 L122 390 L122 390 L120 390 L122 390 L124 390 L124 390 L126 390 L126 390 L128 390 L128 391 L130 391 L130 391 L132 391 L132 391 L134 391 L134 391 L136 391 L136 392 L138 392 L138 392 L140 392 L140 393 L142 393 L142 393 L144 393 L144 393 L146 393 L146 393 L148 393 L148 393 L150 393 L150 393 L152 393 L152 394 L154 394 L154 394 L156 394 L156 394 L158 394 L158 394 L160 394 L160 394 L162 394 L162 394 L164 394 L164 393 L166 393 L166 393 L168 393 L168 393 L170 393 L170 394 L172 394 L172 394 L174 394 L174 394 L176 394 L176 395 L178 395" fill="none" stroke="#000" stroke-width="3" stroke-linejoin="miter" shape-rendering="crispEdges"/>
<path d="M120.58 389.23 L120.58 377.69 L122.5 354.62 L124.42 331.54 L126.35 300.77 L127.31 268.08 L128.85 241.15 L130.38 229.62 L134.42 228.08 L135.58 239.23 L136.92 258.46 L137.88 281.54 L140.77 304.62 L142.69 327.69 L144.62 354.62 L147.5 373.85 L150.38 383.46 L156.15 390.19 L163.85 392.12" fill="none" stroke="#000" stroke-width="1.9" stroke-linejoin="miter" stroke-linecap="butt" stroke-dasharray="5 4.5"/>
<path d="M76.73 393.46 L83.46 393.08 L93.08 390.58 L102.69 388.08 L110.38 387.69 L113.27 390.58" fill="none" stroke="#000" stroke-width="1.7" stroke-linejoin="miter" stroke-linecap="butt" stroke-dasharray="3 3"/>
<path d="M314 388 L316 388 L316 372 L318 372 L318 387 L320 387 L320 389 L322 389 L322 389 L324 389 L324 389 L326 389 L326 388 L328 388 L328 387 L330 387 L330 384 L332 384 L332 382 L334 382 L334 381 L336 381 L336 380 L338 380 L338 377 L340 377 L340 371 L342 371 L342 365 L344 365 L344 359 L346 359 L346 352 L348 352 L348 344 L350 344 L350 333 L352 333 L352 324 L354 324 L354 317 L356 317 L356 306 L358 306 L358 291 L360 291 L360 291 L362 291 L362 291 L364 291 L364 305 L366 305 L366 321 L368 321 L368 335 L370 335 L370 347 L372 347 L372 358 L374 358 L374 366 L376 366 L376 370 L378 370 L378 375 L380 375 L380 379 L382 379 L382 383 L384 383 L384 385 L386 385 L386 388 L388 388 L388 390 L390 390 L390 391 L392 391 L392 392 L394 392 L394 393 L396 393 L396 393 L398 393 L398 393 L400 393 L400 394 L402 394 L402 395 L404 395" fill="none" stroke="#000" stroke-width="3.3" stroke-linejoin="miter"/>
<path d="M359.04 292.69 L360.38 277.31 L361.54 264.81" fill="none" stroke="#000" stroke-width="1.7" stroke-linejoin="miter" stroke-linecap="butt" stroke-dasharray="4.5 3"/>
<path d="M50 696.5 L50 682 L52 682 L52 679 L54 679 L54 676 L56 676 L56 670 L58 670 L58 661 L60 661 L60 650 L62 650 L62 644 L64 644 L64 637 L66 637 L66 624 L68 624 L68 609 L70 609 L70 597 L72 597 L72 586 L74 586 L74 582 L76 582 L76 586 L78 586 L78 589 L80 589 L80 598 L82 598 L82 601 L84 601 L84 619 L86 619 L86 635 L88 635 L88 647 L90 647 L90 659 L92 659 L92 670 L94 670 L94 676 L96 676 L96 682 L98 682 L98 686 L100 686 L100 690 L102 690 L102 693 L104 693 L104 696 L106 696 L106 696.5 Z" fill="#000" stroke="none" shape-rendering="crispEdges"/>
<rect x="96" y="632" width="17.7" height="9" fill="#000"/>
<path d="M56.8 558 L82.3 558" fill="none" stroke="#000" stroke-width="2.8" stroke-linejoin="miter" stroke-linecap="butt"/>
<path d="M59.2 570.5 L80.8 570.5" fill="none" stroke="#000" stroke-width="1.5" stroke-linejoin="miter" stroke-linecap="butt" stroke-dasharray="5.5 2.5"/>
<rect x="172" y="603.5" width="3" height="2.1" fill="#000"/>
<path d="M160 694 L162 694 L162 693 L164 693 L164 691 L166 691 L166 690 L168 690 L168 689 L170 689 L170 689 L172 689 L172 688 L174 688 L174 688 L176 688 L176 688 L178 688 L178 687 L180 687 L180 687 L182 687 L182 686 L184 686 L184 683 L186 683 L186 680 L188 680 L188 675 L190 675 L190 667 L192 667 L192 655 L194 655 L194 641 L196 641 L196 626 L198 626 L198 608 L200 608 L200 593 L202 593 L202 586 L204 586 L204 585 L206 585 L206 594 L208 594 L208 606 L210 606 L210 621 L212 621 L212 635 L214 635 L214 647 L216 647 L216 658 L218 658 L218 666 L220 666 L220 672 L222 672 L222 678 L224 678 L224 682 L226 682 L226 685 L228 685 L228 687 L230 687 L230 688 L232 688 L232 690 L234 690 L234 690 L236 690 L236 690 L238 690 L238 691 L240 691 L240 692 L242 692" fill="none" stroke="#000" stroke-width="3" stroke-linejoin="miter" shape-rendering="crispEdges"/>
<path d="M162.79 691.11 L170.57 685.92 L176.63 679 L180.09 668.62 L183.55 654.78 L186.14 640.93 L187.87 621.9 L190.47 597.68 L193.93 583.84 L196.52 580.38 L199.12 590.76 L201.37 604.6 L204.31 614.98 L206.9 627.09 L209.5 639.2 L212.09 651.31 L215.55 661.7" fill="none" stroke="#000" stroke-width="1.7" stroke-linejoin="miter" stroke-linecap="butt" stroke-dasharray="4.5 3.5"/>
<path d="M306 694.5 L306 675 L308 675 L308 673 L310 673 L310 669 L312 669 L312 665 L314 665 L314 660 L316 660 L316 657 L318 657 L318 653 L320 653 L320 644 L322 644 L322 610 L324 610 L324 596 L326 596 L326 584 L328 584 L328 580 L330 580 L330 584 L332 584 L332 591 L334 591 L334 594 L336 594 L336 597 L338 597 L338 615 L340 615 L340 621 L342 621 L342 642 L344 642 L344 653 L346 653 L346 660 L348 660 L348 675 L350 675 L350 681 L352 681 L352 684 L354 684 L354 686 L356 686 L356 689 L358 689 L358 692 L360 692 L360 694 L362 694 L362 694.5 Z" fill="#000" stroke="none" shape-rendering="crispEdges"/>
<rect x="346.7" y="635.2" width="18.3" height="8.6" fill="#000"/>
<path d="M310.4 555.6 L334.6 555.6" fill="none" stroke="#000" stroke-width="2.8" stroke-linejoin="miter" stroke-linecap="butt"/>
<path d="M312 567 L334 567" fill="none" stroke="#000" stroke-width="1.5" stroke-linejoin="miter" stroke-linecap="butt" stroke-dasharray="5.5 2.5"/>
<path d="M412 692 L414 692 L414 690 L416 690 L416 688 L418 688 L418 687 L420 687 L420 686 L422 686 L422 685 L424 685 L424 685 L426 685 L426 684 L428 684 L428 683 L430 683 L430 681 L432 681 L432 678 L434 678 L434 675 L436 675 L436 672 L438 672 L438 668 L440 668 L440 663 L442 663 L442 656 L444 656 L444 647 L446 647 L446 637 L448 637 L448 627 L450 627 L450 621 L452 621 L452 618 L454 618 L454 615 L456 615 L456 623 L458 623 L458 628 L460 628 L460 633 L462 633 L462 640 L464 640 L464 647 L466 647 L466 655 L468 655 L468 661 L470 661 L470 662 L472 662 L472 664 L474 664 L474 667 L476 667 L476 671 L478 671 L478 675 L480 675 L480 679 L482 679 L482 683 L484 683 L484 686 L486 686 L486 689 L488 689 L488 691 L490 691 L490 693 L492 693" fill="none" stroke="#000" stroke-width="3.1" stroke-linejoin="miter"/>
<path d="M421.15 684.23 L425 681.35 L430.77 672.69 L435.58 659.23 L438.46 649.62 L442.31 636.15 L444.23 624.62 L448.08 615 L452.88 610.19" fill="none" stroke="#000" stroke-width="1.7" stroke-linejoin="miter" stroke-linecap="butt" stroke-dasharray="4.5 3.5"/>
<path d="M471.15 666.92 L474.04 674.62 L476.92 682.31 L480.77 684.23" fill="none" stroke="#000" stroke-width="1.7" stroke-linejoin="miter" stroke-linecap="butt" stroke-dasharray="4.5 3.5"/>
<path d="M56 928 L58 928 L58 927 L60 927 L60 927 L62 927 L62 926 L64 926 L64 925 L66 925 L66 924 L68 924 L68 923 L70 923 L70 922 L72 922 L72 921 L74 921 L74 919 L76 919 L76 916 L78 916 L78 912 L80 912 L80 907 L82 907 L82 902 L84 902 L84 897 L86 897 L86 892 L88 892 L88 885 L90 885 L90 875 L92 875 L92 863 L94 863 L94 850 L96 850 L96 836 L98 836 L98 821 L100 821 L100 806 L102 806 L102 796 L104 796 L104 805 L106 805 L106 822 L108 822 L108 842 L110 842 L110 861 L112 861 L112 877 L114 877 L114 892 L116 892 L116 905 L118 905 L118 913 L120 913 L120 917 L122 917 L122 920 L124 920 L124 922 L126 922 L126 923 L128 923 L128 924 L130 924 L130 925 L132 925 L132 925 L134 925 L134 926 L136 926 L136 926 L138 926 L138 926 L140 926 L140 926 L142 926 L142 927 L144 927 L144 927 L146 927 L146 927 L148 927 L148 927 L150 927 L150 927 L152 927 L152 927 L154 927 L154 927 L156 927 L156 927 L158 927 L158 927 L160 927 L160 928 L162 928 L162 928 L164 928 L164 928 L166 928 L166 928 L168 928 L168 929 L170 929 L170 929 L172 929 L172 929 L174 929 L174 930 L176 930" fill="none" stroke="#000" stroke-width="3" stroke-linejoin="miter" shape-rendering="crispEdges"/>
<path d="M72.31 927.5 L80 926.92 L89.62 926.15 L96.35 920.77 L103.08 911.15 L107.88 899.62 L111.73 893.85 L116.54 886.15 L118.46 870.77 L121.35 865 L124.23 861.15 L128.08 866.92 L132.88 869.81 L135.77 882.31 L140.58 893.85 L144.42 894.81 L147.31 903.46 L152.12 913.08 L155 915.96 L142.88 894.62 L147.69 904.23 L153.46 914.81 L159.23 922.5 L165 927.31 L170.77 929.23" fill="none" stroke="#000" stroke-width="1.7" stroke-linejoin="miter" stroke-linecap="butt" stroke-dasharray="4.5 3.5"/>
<path d="M310 932 L312 932 L312 932 L314 932 L314 932 L316 932 L316 931 L318 931 L318 931 L320 931 L320 931 L322 931 L322 930 L324 930 L324 929 L326 929 L326 928 L328 928 L328 926 L330 926 L330 925 L332 925 L332 923 L334 923 L334 922 L336 922 L336 919 L338 919 L338 914 L340 914 L340 908 L342 908 L342 903 L344 903 L344 897 L346 897 L346 887 L348 887 L348 875 L350 875 L350 863 L352 863 L352 851 L354 851 L354 840 L356 840 L356 830 L358 830 L358 822 L360 822 L360 826 L362 826 L362 837 L364 837 L364 852 L366 852 L366 870 L368 870 L368 889 L370 889 L370 905 L372 905 L372 917 L374 917 L374 923 L376 923 L376 927 L378 927 L378 928 L380 928 L380 930 L382 930 L382 930 L384 930 L384 931 L386 931 L386 931 L388 931 L388 932 L390 932 L390 932 L392 932 L392 932 L394 932 L394 932 L396 932 L396 933 L398 933 L398 933 L400 933 L400 933 L402 933 L402 933 L404 933 L404 933 L406 933 L406 932 L408 932" fill="none" stroke="#000" stroke-width="3" stroke-linejoin="miter" shape-rendering="crispEdges"/>
<path d="M318.46 927.5 L326.15 920.77 L333.85 913.08 L338.65 897.69 L343.46 880.38 L347.31 863.08 L350.19 840 L352.12 815 L353.08 797.69 L355.38 793.85 L357.31 801.54 L358.85 818.85 L360.77 840 L362.69 857.31 L364.62 876.54 L366.54 893.85 L368.46 905.38" fill="none" stroke="#000" stroke-width="1.7" stroke-linejoin="miter" stroke-linecap="butt" stroke-dasharray="4.5 3.5"/>
<rect x="274.6" y="327.4" width="1.6" height="1.4" fill="#000"/>
<text x="90" y="20" font-family='"Liberation Serif", serif' font-size="14" textLength="29.5" lengthAdjust="spacing" stroke="#000" stroke-width="0.3" xml:space="preserve">With</text>
<text x="129.5" y="20" font-family='"Liberation Serif", serif' font-size="14" textLength="25.5" lengthAdjust="spacing" stroke="#000" stroke-width="0.3" xml:space="preserve">CsA</text>
<text x="90" y="37.5" font-family='"Liberation Serif", serif' font-size="14" textLength="50" lengthAdjust="spacing" stroke="#000" stroke-width="0.3" xml:space="preserve">Without</text>
<text x="151.25" y="37.5" font-family='"Liberation Serif", serif' font-size="14" textLength="26.25" lengthAdjust="spacing" stroke="#000" stroke-width="0.3" xml:space="preserve">CsA</text>
<text x="75" y="58.75" font-family='"Liberation Serif", serif' font-size="14" textLength="76.25" lengthAdjust="spacing" stroke="#000" stroke-width="0.3" xml:space="preserve">Ratio††=2.5</text>
<text x="94.5" y="86.25" font-family='"Liberation Serif", serif' font-size="14" textLength="56.75" lengthAdjust="spacing" stroke="#000" stroke-width="0.3" xml:space="preserve">Control*</text>
<text x="95.8" y="147.6" font-family='"Liberation Serif", serif' font-size="22.5" font-weight="bold" stroke="#000" stroke-width="0.3" xml:space="preserve">E</text>
<text x="58.5" y="195" font-family='"Liberation Serif", serif' font-size="15" textLength="87.3" lengthAdjust="spacing" stroke="#000" stroke-width="0.3" xml:space="preserve">Calcein-AM</text>
<text x="162.3" y="195" font-family='"Liberation Serif", serif' font-size="15" textLength="46.9" lengthAdjust="spacing" stroke="#000" stroke-width="0.3" xml:space="preserve">uptake</text>
<text x="335.4" y="22" font-family='"Liberation Serif", serif' font-size="14" textLength="29.8" lengthAdjust="spacing" stroke="#000" stroke-width="0.3" xml:space="preserve">With</text>
<text x="380.6" y="22" font-family='"Liberation Serif", serif' font-size="14" textLength="71.1" lengthAdjust="spacing" stroke="#000" stroke-width="0.3" xml:space="preserve">probenecid</text>
<text x="361" y="40.4" font-family='"Liberation Serif", serif' font-size="14" textLength="55.3" lengthAdjust="spacing" stroke="#000" stroke-width="0.3" xml:space="preserve">Without</text>
<text x="372.6" y="58.8" font-family='"Liberation Serif", serif' font-size="14" textLength="70.4" lengthAdjust="spacing" stroke="#000" stroke-width="0.3" xml:space="preserve">probenecid</text>
<text x="359.4" y="88.7" font-family='"Liberation Serif", serif' font-size="14" textLength="63.1" lengthAdjust="spacing" stroke="#000" stroke-width="0.3" xml:space="preserve">Ratio††=1</text>
<text x="378.5" y="114.8" font-family='"Liberation Serif", serif' font-size="14" textLength="56.3" lengthAdjust="spacing" stroke="#000" stroke-width="0.3" xml:space="preserve">Control*</text>
<text x="377" y="146" font-family='"Liberation Serif", serif' font-size="22" font-weight="bold" stroke="#000" stroke-width="0.3" xml:space="preserve">F</text>
<text x="353.8" y="193" font-family='"Liberation Serif", serif' font-size="15" textLength="50.8" lengthAdjust="spacing" stroke="#000" stroke-width="0.3" xml:space="preserve">calcein</text>
<text x="423" y="193" font-family='"Liberation Serif", serif' font-size="15" textLength="42.4" lengthAdjust="spacing" stroke="#000" stroke-width="0.3" xml:space="preserve">efflux</text>
<text x="139.5" y="238" font-family='"Liberation Serif", serif' font-size="14" textLength="90.5" lengthAdjust="spacing" stroke="#000" stroke-width="0.3" xml:space="preserve">UIC2/control</text>
<text x="167.5" y="255" font-family='"Liberation Serif", serif' font-size="14" textLength="33.75" lengthAdjust="spacing" stroke="#000" stroke-width="0.3" xml:space="preserve">=5.5†</text>
<text x="216.8" y="389.4" font-family='"Liberation Serif", serif' font-size="22" font-weight="bold" stroke="#000" stroke-width="0.3" xml:space="preserve">e</text>
<text x="78.5" y="440.8" font-family='"Liberation Serif", serif' font-size="15" textLength="25" lengthAdjust="spacing" stroke="#000" stroke-width="0.3" xml:space="preserve">Pgp</text>
<text x="122.7" y="440.8" font-family='"Liberation Serif", serif' font-size="15" textLength="78.1" lengthAdjust="spacing" stroke="#000" stroke-width="0.3" xml:space="preserve">expression</text>
<text x="321.5" y="237.3" font-family='"Liberation Serif", serif' font-size="14" textLength="130" lengthAdjust="spacing" stroke="#000" stroke-width="0.3" xml:space="preserve">MRPm6/control=1†</text>
<text x="480.4" y="387" font-family='"Liberation Serif", serif' font-size="22" font-weight="bold" stroke="#000" stroke-width="0.3" xml:space="preserve">f</text>
<text x="340.8" y="438.8" font-family='"Liberation Serif", serif' font-size="15" textLength="32.7" lengthAdjust="spacing" stroke="#000" stroke-width="0.3" xml:space="preserve">MRP</text>
<text x="390.8" y="438.8" font-family='"Liberation Serif", serif' font-size="15" textLength="76.9" lengthAdjust="spacing" stroke="#000" stroke-width="0.3" xml:space="preserve">expression</text>
<text x="90" y="561" font-family='"Liberation Serif", serif' font-size="14" textLength="29.2" lengthAdjust="spacing" stroke="#000" stroke-width="0.3" xml:space="preserve">With</text>
<text x="129.4" y="561" font-family='"Liberation Serif", serif' font-size="14" textLength="25.8" lengthAdjust="spacing" stroke="#000" stroke-width="0.3" xml:space="preserve">CsA</text>
<text x="90" y="578.2" font-family='"Liberation Serif", serif' font-size="14" textLength="49.8" lengthAdjust="spacing" stroke="#000" stroke-width="0.3" xml:space="preserve">Without</text>
<text x="151.5" y="578.2" font-family='"Liberation Serif", serif' font-size="14" textLength="25.5" lengthAdjust="spacing" stroke="#000" stroke-width="0.3" xml:space="preserve">CsA</text>
<text x="96.8" y="605.6" font-family='"Liberation Serif", serif' font-size="14" textLength="62.4" lengthAdjust="spacing" stroke="#000" stroke-width="0.3" xml:space="preserve">Ratio††=2</text>
<text x="119.2" y="640.4" font-family='"Liberation Serif", serif' font-size="14" textLength="57" lengthAdjust="spacing" stroke="#000" stroke-width="0.3" xml:space="preserve">Control*</text>
<text x="124.2" y="686.2" font-family='"Liberation Serif", serif' font-size="22" font-weight="bold" stroke="#000" stroke-width="0.3" xml:space="preserve">G</text>
<text x="65.4" y="733.8" font-family='"Liberation Serif", serif' font-size="15" textLength="87.6" lengthAdjust="spacing" stroke="#000" stroke-width="0.3" xml:space="preserve">Calcein-AM</text>
<text x="170" y="733.8" font-family='"Liberation Serif", serif' font-size="15" textLength="47.3" lengthAdjust="spacing" stroke="#000" stroke-width="0.3" xml:space="preserve">uptake</text>
<text x="336.3" y="559" font-family='"Liberation Serif", serif' font-size="14" textLength="29.5" lengthAdjust="spacing" stroke="#000" stroke-width="0.3" xml:space="preserve">With</text>
<text x="382.4" y="559" font-family='"Liberation Serif", serif' font-size="14" textLength="70.6" lengthAdjust="spacing" stroke="#000" stroke-width="0.3" xml:space="preserve">probenecid</text>
<text x="335.7" y="575.7" font-family='"Liberation Serif", serif' font-size="14" textLength="50.8" lengthAdjust="spacing" stroke="#000" stroke-width="0.3" xml:space="preserve">Without</text>
<text x="401.4" y="575.7" font-family='"Liberation Serif", serif' font-size="14" textLength="71" lengthAdjust="spacing" stroke="#000" stroke-width="0.3" xml:space="preserve">probenecid</text>
<text x="356.4" y="606.5" font-family='"Liberation Serif", serif' font-size="14" textLength="83.1" lengthAdjust="spacing" stroke="#000" stroke-width="0.3" xml:space="preserve">Ratio††=1.01</text>
<text x="372" y="643.8" font-family='"Liberation Serif", serif' font-size="14" textLength="56.8" lengthAdjust="spacing" stroke="#000" stroke-width="0.3" xml:space="preserve">Control*</text>
<text x="382.7" y="688.8" font-family='"Liberation Serif", serif' font-size="22" font-weight="bold" stroke="#000" stroke-width="0.3" xml:space="preserve">H</text>
<text x="364.6" y="735" font-family='"Liberation Serif", serif' font-size="15" textLength="50.8" lengthAdjust="spacing" stroke="#000" stroke-width="0.3" xml:space="preserve">calcein</text>
<text x="432.7" y="735" font-family='"Liberation Serif", serif' font-size="15" textLength="42.3" lengthAdjust="spacing" stroke="#000" stroke-width="0.3" xml:space="preserve">efflux</text>
<text x="61.5" y="781" font-family='"Liberation Serif", serif' font-size="14" textLength="127" lengthAdjust="spacing" stroke="#000" stroke-width="0.3" xml:space="preserve">UIC2/control=3.2†</text>
<text x="219.2" y="922.3" font-family='"Liberation Serif", serif' font-size="22" font-weight="bold" stroke="#000" stroke-width="0.3" xml:space="preserve">g</text>
<text x="81.5" y="974.2" font-family='"Liberation Serif", serif' font-size="15" textLength="26.2" lengthAdjust="spacing" stroke="#000" stroke-width="0.3" xml:space="preserve">Pgp</text>
<text x="125.8" y="974.2" font-family='"Liberation Serif", serif' font-size="15" textLength="78" lengthAdjust="spacing" stroke="#000" stroke-width="0.3" xml:space="preserve">expression</text>
<text x="319.1" y="781.4" font-family='"Liberation Serif", serif' font-size="14" textLength="152.3" lengthAdjust="spacing" stroke="#000" stroke-width="0.3" xml:space="preserve">MRPm6/control=0.97†</text>
<text x="488.8" y="927.8" font-family='"Liberation Serif", serif' font-size="22" font-weight="bold" stroke="#000" stroke-width="0.3" xml:space="preserve">h</text>
<text x="341.3" y="982.8" font-family='"Liberation Serif", serif' font-size="15" textLength="32.4" lengthAdjust="spacing" stroke="#000" stroke-width="0.3" xml:space="preserve">MRP</text>
<text x="391.8" y="982.8" font-family='"Liberation Serif", serif' font-size="15" textLength="78" lengthAdjust="spacing" stroke="#000" stroke-width="0.3" xml:space="preserve">expression</text>
</svg>
</body></html>
